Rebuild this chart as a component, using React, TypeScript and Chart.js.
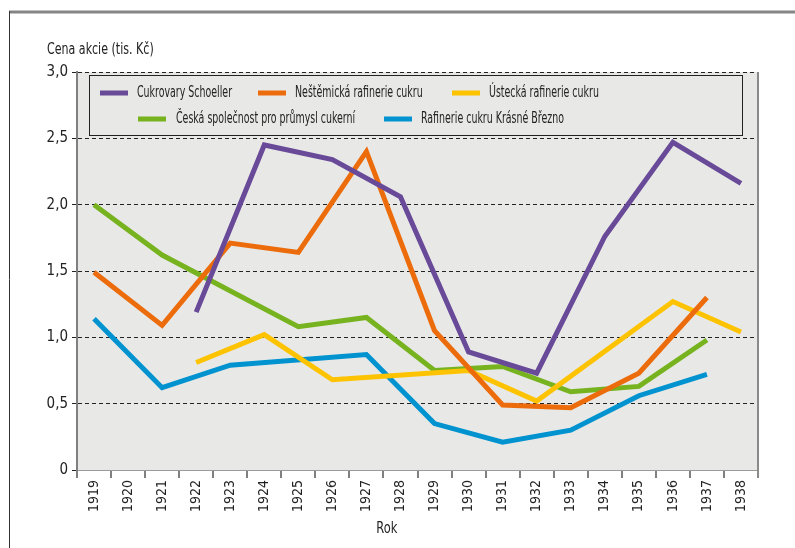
import React, { useEffect, useRef } from "react";
import { Chart, registerables } from "chart.js";

Chart.register(...registerables);

const years = ["1919","1920","1921","1922","1923","1924","1925","1926","1927","1928","1929","1930","1931","1932","1933","1934","1935","1936","1937","1938"];

const schoeller = [null,null,null,1.19,null,2.45,null,2.34,null,2.06,null,0.89,null,0.73,null,1.76,null,2.47,null,2.16];
const nestemicka = [1.49,null,1.09,null,1.71,null,1.64,null,2.40,null,1.05,null,0.49,null,0.47,null,0.73,null,1.30,null];
const ustecka = [null,null,null,0.81,null,1.02,null,0.68,null,null,null,0.75,null,0.52,null,null,null,1.27,null,1.04];
const ceska = [2.00,null,1.62,null,null,null,1.08,null,1.15,null,0.75,null,0.78,null,0.59,null,0.63,null,0.98,null];
const brezno = [1.14,null,0.62,null,0.79,null,null,null,0.87,null,0.35,null,0.21,null,0.30,null,0.56,null,0.72,null];

const seriesNames = [
  "Cukrovary Schoeller",
  "Neštěmická rafinerie cukru",
  "Ústecká rafinerie cukru",
  "Česká společnost pro průmysl cukerní",
  "Rafinerie cukru Krásné Březno",
];
const seriesColors = ["#684a98", "#ec6c0c", "#fdc300", "#76b31f", "#0093d0"];

const yTicks = [0, 0.5, 1.0, 1.5, 2.0, 2.5, 3.0];
const yTitle = "Cena akcie (tis. Kč)";
const xTitle = "Rok";

const FONT = "'Liberation Sans Narrow', 'DejaVu Sans Condensed', 'Arial Narrow', sans-serif";

function narrowText(ctx: any, text: string, x: number, y: number, sx: number, align: string) {
  ctx.save();
  ctx.translate(x, y);
  ctx.scale(sx, 1);
  ctx.textAlign = align;
  ctx.fillText(text, 0, 0);
  ctx.restore();
}

const decorPlugin = {
  id: "decor",
  beforeDraw(chart: any) {
    const { ctx, chartArea: a, width, height } = chart;
    ctx.save();
    ctx.fillStyle = "#ffffff";
    ctx.fillRect(0, 0, width, height);
    ctx.fillStyle = "#e8e8e6";
    ctx.fillRect(a.left, a.top, a.right - a.left, a.bottom - a.top);
    ctx.strokeStyle = "#858585";
    ctx.lineWidth = 3;
    ctx.beginPath();
    ctx.moveTo(9, 12);
    ctx.lineTo(width, 12);
    ctx.stroke();
    ctx.strokeStyle = "#333333";
    ctx.lineWidth = 1;
    ctx.beginPath();
    ctx.moveTo(9.5, 11);
    ctx.lineTo(9.5, height);
    ctx.stroke();
    ctx.restore();
  },
  afterDraw(chart: any) {
    const { ctx, chartArea: a } = chart;
    ctx.save();
    ctx.strokeStyle = "#8a8a8a";
    ctx.lineWidth = 2;
    ctx.beginPath();
    ctx.moveTo(a.right, a.top);
    ctx.lineTo(a.right, a.bottom + 8);
    ctx.stroke();
    ctx.fillStyle = "#222";
    ctx.font = `15px ${FONT}`;
    ctx.textBaseline = "middle";
    narrowText(ctx, yTitle, a.left - 30, a.top - 22, 0.82, "left");
    narrowText(ctx, xTitle, a.left + (a.right - a.left) * 0.455, a.bottom + 59, 0.85, "center");
    ctx.restore();
  },
  afterDatasetsDraw(chart: any) {
    const { ctx, chartArea: a } = chart;
    ctx.save();
    const bx = a.left + 12, by = a.top + 3, bw = 653, bh = 60;
    ctx.fillStyle = "#e8e8e6";
    ctx.fillRect(bx, by, bw, bh);
    ctx.strokeStyle = "#222";
    ctx.lineWidth = 1;
    ctx.strokeRect(bx + 0.5, by + 0.5, bw, bh);
    const items = [
      { sx: 100, tx: 137, y: 93 },
      { sx: 258, tx: 295, y: 93 },
      { sx: 452, tx: 489, y: 93 },
      { sx: 138, tx: 176, y: 119 },
      { sx: 384, tx: 421, y: 119 },
    ];
    ctx.font = `15px ${FONT}`;
    ctx.textBaseline = "middle";
    const ox = a.left - 77, oy = a.top - 72;
    items.forEach((it, i) => {
      ctx.strokeStyle = seriesColors[i];
      ctx.lineWidth = 5;
      ctx.beginPath();
      ctx.moveTo(it.sx + ox, it.y + oy);
      ctx.lineTo(it.sx + 28 + ox, it.y + oy);
      ctx.stroke();
      ctx.fillStyle = "#222";
      narrowText(ctx, seriesNames[i], it.tx + ox, it.y + oy, 0.7, "left");
    });
    ctx.restore();
  },
};

export default function App() {
  const ref = useRef<HTMLCanvasElement | null>(null);
  useEffect(() => {
    if (!ref.current) return;
    const all = [schoeller, nestemicka, ustecka, ceska, brezno];
    const chart = new Chart(ref.current, {
      type: "line",
      data: {
        labels: years,
        datasets: all.map((d, i) => ({
          label: seriesNames[i],
          data: d,
          borderColor: seriesColors[i],
          backgroundColor: seriesColors[i],
          borderWidth: 5,
          pointRadius: 0,
          pointHoverRadius: 0,
          tension: 0,
          spanGaps: true,
          borderCapStyle: "butt",
          borderJoinStyle: "miter",
          fill: false,
        })),
      },
      options: {
        animation: false,
        responsive: false,
        maintainAspectRatio: false,
        layout: { padding: { top: 72, right: 37, left: 0, bottom: 0 } },
        plugins: { legend: { display: false }, tooltip: { enabled: false }, title: { display: false } },
        scales: {
          x: {
            offset: true,
            afterFit: (s: any) => { s.height = 78; },
            grid: {
              offset: true,
              drawOnChartArea: false,
              drawTicks: true,
              tickLength: 8,
              color: "#808080",
              lineWidth: 2,
            },
            border: { display: true, color: "#9a9a9a", width: 1 },
            ticks: {
              autoSkip: false,
              maxRotation: 90,
              minRotation: 90,
              padding: 2,
              color: "#222",
              font: { family: FONT, size: 14 },
            },
          },
          y: {
            min: 0,
            max: 3,
            afterFit: (s: any) => { s.width = 77; },
            afterBuildTicks: (s: any) => { s.ticks = yTicks.map((v) => ({ value: v })); },
            grid: {
              color: "#222",
              lineWidth: 1,
              drawTicks: true,
              tickLength: 5,
              tickColor: "#222",
              tickBorderDash: [],
            },
            border: { display: true, color: "#808080", width: 2, dash: [4, 3] },
            ticks: {
              padding: 4,
              color: "#222",
              font: { family: FONT, size: 15 },
              callback: (v: any) => (Number(v) === 0 ? "0" : Number(v).toFixed(1).replace(".", ",")),
            },
          },
        },
      },
      plugins: [decorPlugin],
    } as any);
    return () => chart.destroy();
  }, []);
  return (
    <div style={{ position: "fixed", left: 0, top: 0, width: 795, height: 548 }}>
      <canvas ref={ref} width={795} height={548} style={{ width: 795, height: 548, display: "block" }} />
    </div>
  );
}
